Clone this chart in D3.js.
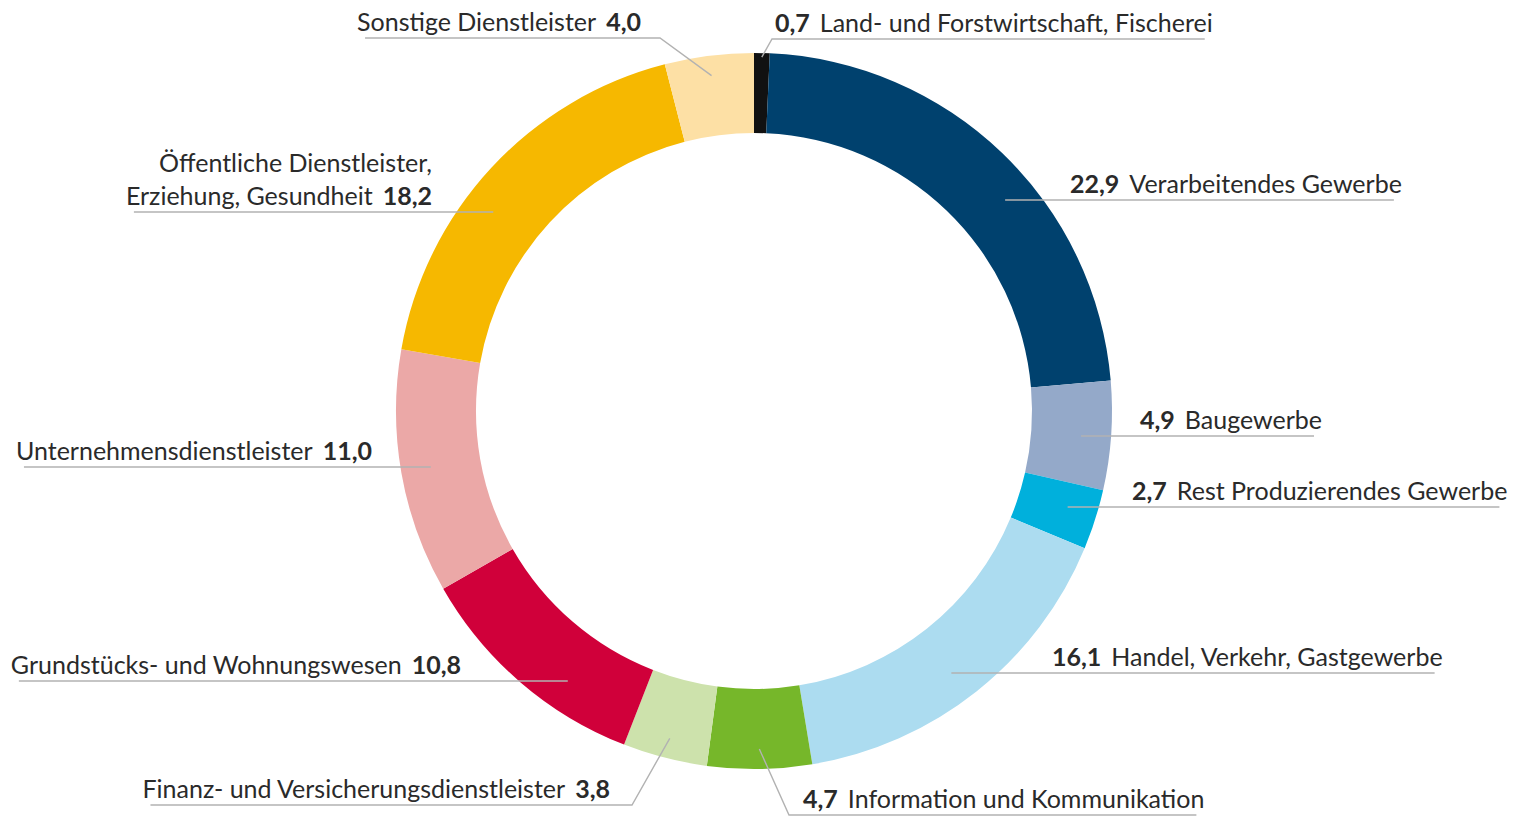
<!DOCTYPE html>
<html>
<head>
<meta charset="utf-8">
<script src="https://cdn.jsdelivr.net/npm/d3@7"></script>
<style>
  body { margin: 0; background: #fff; }
  svg text { font-family: Lato, "Open Sans", sans-serif; fill: #2a2a2a; }
</style>
</head>
<body>
<svg id="chart" width="1521" height="817"></svg>
<script>
// Anteile an der Bruttowertschöpfung in %, im Uhrzeigersinn ab 12 Uhr
const sectors = [
  "Land- und Forstwirtschaft, Fischerei",
  "Verarbeitendes Gewerbe",
  "Baugewerbe",
  "Rest Produzierendes Gewerbe",
  "Handel, Verkehr, Gastgewerbe",
  "Information und Kommunikation",
  "Finanz- und Versicherungsdienstleister",
  "Grundstücks- und Wohnungswesen",
  "Unternehmensdienstleister",
  "Öffentliche Dienstleister, Erziehung, Gesundheit",
  "Sonstige Dienstleister"
];
const shares = [0.7, 22.9, 4.9, 2.7, 16.1, 4.7, 3.8, 10.8, 11.0, 18.2, 4.0];
const colors = ["#111111", "#00416e", "#94a9c9", "#00b0dc", "#acdcf0", "#76b72a",
                "#cde2ac", "#d0003a", "#eba8a7", "#f6b800", "#fde0a5"];

// label layout: side, underline y, text x (start for right, end for left), elbow x for angled leaders
const labelLayout = [
  { side: "right", y: 39,  tx: 775,  elbow: 772 },
  { side: "right", y: 200, tx: 1070 },
  { side: "right", y: 436, tx: 1140 },
  { side: "right", y: 507, tx: 1132 },
  { side: "right", y: 673, tx: 1052 },
  { side: "right", y: 815, tx: 803,  elbow: 789 },
  { side: "left",  y: 805, tx: 610,  elbow: 632 },
  { side: "left",  y: 681, tx: 461 },
  { side: "left",  y: 467, tx: 372 },
  { side: "left",  y: 212, tx: 432, lines: ["Öffentliche Dienstleister,", "Erziehung, Gesundheit"] },
  { side: "left",  y: 38,  tx: 641,  elbow: 660 }
];

const cx = 754, cy = 411, rOuter = 358, rInner = 278;
const fontSize = 25;
const fmt = v => d3.format(".1f")(v).replace(".", ",");

const svg = d3.select("#chart");
const g = svg.append("g").attr("transform", `translate(${cx},${cy})`);

const data = sectors.map((s, i) => ({ name: s, value: shares[i], color: colors[i], layout: labelLayout[i] }));
const pie = d3.pie().sort(null).value(d => d.value);
const arcs = pie(data);
const arc = d3.arc().innerRadius(rInner).outerRadius(rOuter);

g.selectAll("path.slice").data(arcs).join("path")
  .attr("class", "slice")
  .attr("d", arc)
  .attr("fill", d => d.data.color);

const labels = svg.append("g");

arcs.forEach(a => {
  const L = a.data.layout;
  const grp = labels.append("g");
  const txt = grp.append("text").attr("font-size", fontSize);
  const baseY = L.y - 7;
  if (L.side === "right") {
    txt.attr("x", L.tx).attr("y", baseY).attr("text-anchor", "start");
    txt.append("tspan").attr("font-weight", 700).text(fmt(a.data.value));
    txt.append("tspan").attr("dx", 10).text(a.data.name);
  } else if (L.lines) {
    grp.append("text").attr("font-size", fontSize)
      .attr("x", L.tx).attr("y", baseY - 33).attr("text-anchor", "end").text(L.lines[0]);
    txt.attr("x", L.tx).attr("y", baseY).attr("text-anchor", "end");
    txt.append("tspan").text(L.lines[1]);
    txt.append("tspan").attr("dx", 10).attr("font-weight", 700).text(fmt(a.data.value));
  } else {
    txt.attr("x", L.tx).attr("y", baseY).attr("text-anchor", "end");
    txt.append("tspan").text(a.data.name);
    txt.append("tspan").attr("dx", 10).attr("font-weight", 700).text(fmt(a.data.value));
  }
  const textW = txt.node().getComputedTextLength();

  const mid = (a.startAngle + a.endAngle) / 2;
  const endX = L.side === "right" ? L.tx + textW + 2 : L.tx - textW - 2;
  let pts;
  if (L.elbow !== undefined) {
    const r = a.data.value < 1 ? 354 : 338;
    const ax = cx + r * Math.sin(mid), ay = cy - r * Math.cos(mid);
    pts = [[ax, ay], [L.elbow, L.y], [endX, L.y]];
  } else {
    const rL = 328, dy = L.y - cy;
    const dx = Math.sqrt(rL * rL - dy * dy);
    const ax = L.side === "right" ? cx + dx : cx - dx;
    pts = [[ax, L.y], [endX, L.y]];
  }
  grp.append("path")
    .attr("d", d3.line()(pts))
    .attr("fill", "none")
    .attr("stroke", "#b2b2b2")
    .attr("stroke-width", 1.4);
});
</script>
</body>
</html>
